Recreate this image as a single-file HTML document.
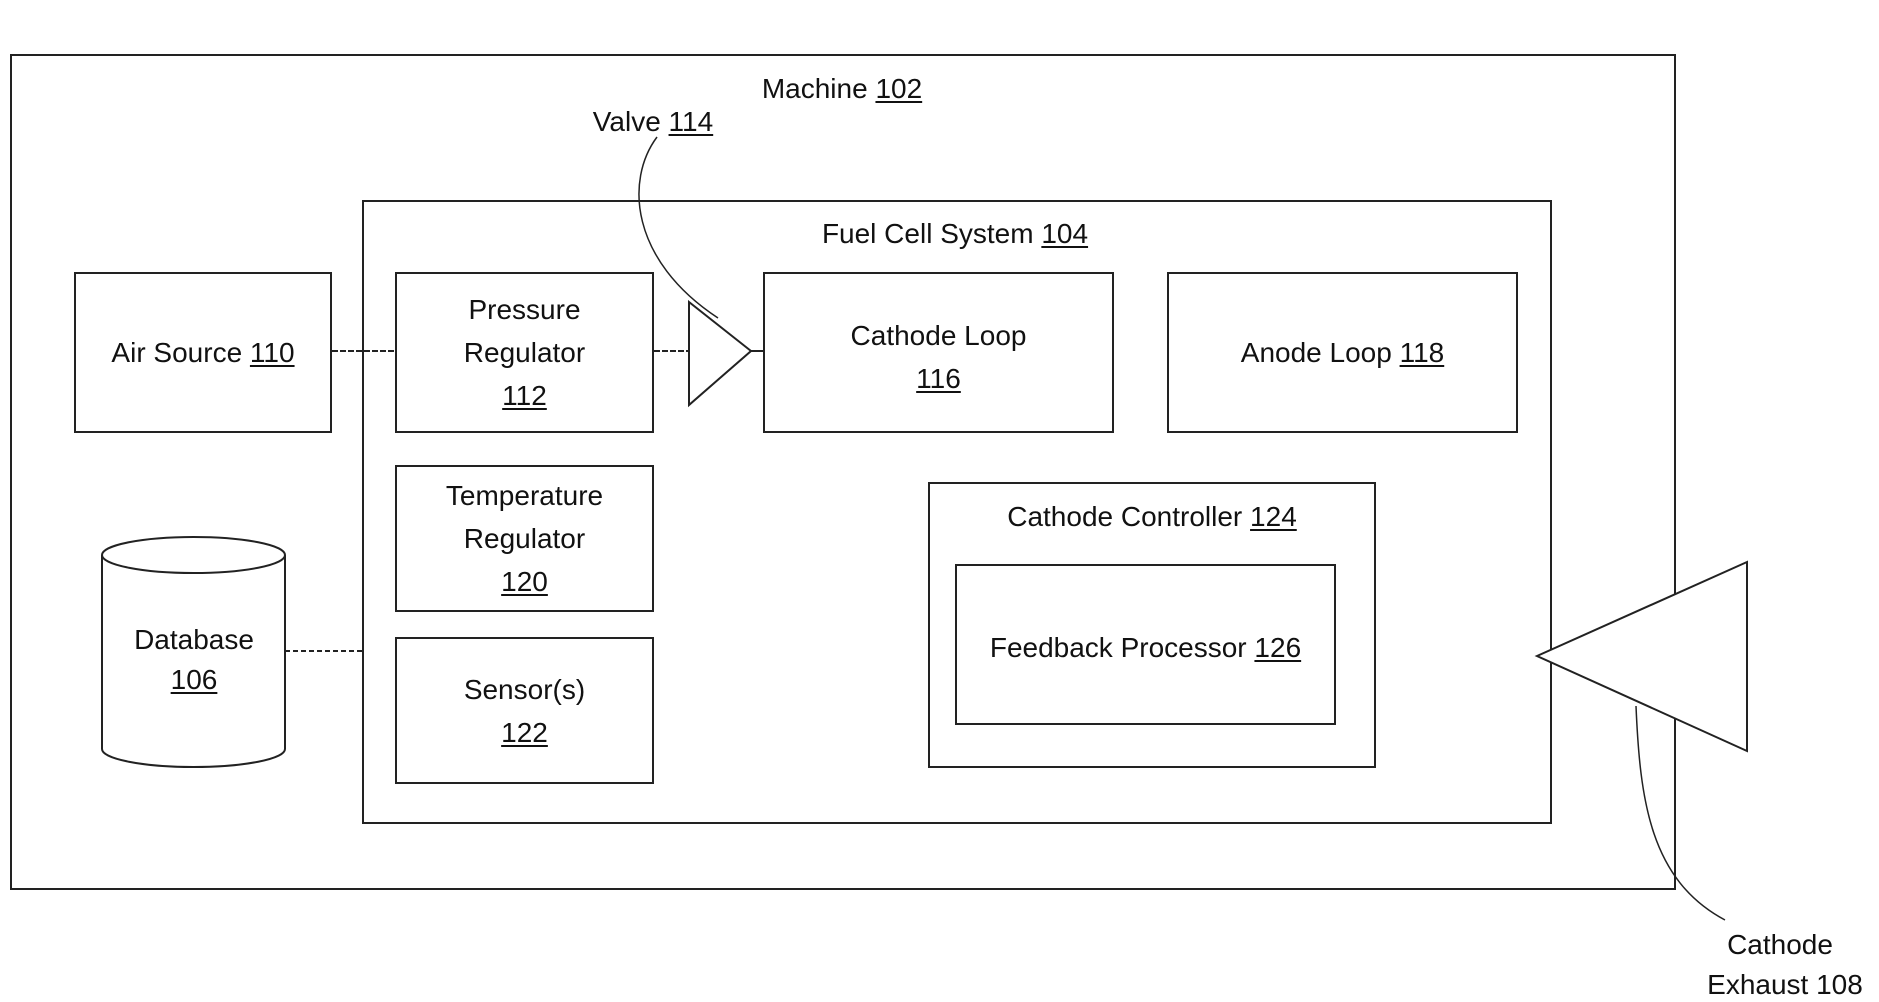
<!DOCTYPE html>
<html><head><style>
body{margin:0;background:#fff;width:1879px;height:996px;overflow:hidden;position:relative;font-family:"Liberation Sans",Arial,sans-serif;color:#111}
.b{position:absolute;border:2px solid #222;box-sizing:border-box}
.t{position:absolute;font-size:28px;text-align:center;line-height:34px;white-space:nowrap}
u{text-decoration-thickness:2px;text-underline-offset:3px}
.c{display:flex;align-items:center;justify-content:center;text-align:center;font-size:28px;line-height:43px}
.c>span{display:block}
</style></head><body>
<div class="b" style="left:10px;top:54px;width:1666px;height:836px"></div>
<div class="t" style="left:742px;top:72px;width:200px">Machine <u>102</u></div>
<div class="t" style="left:568px;top:105px;width:170px">Valve <u>114</u></div>
<div class="b" style="left:362px;top:200px;width:1190px;height:624px"></div>
<div class="t" style="left:790px;top:217px;width:330px">Fuel Cell System <u>104</u></div>
<div class="b c" style="left:74px;top:272px;width:258px;height:161px"><span>Air Source <u>110</u></span></div>
<div class="b c" style="left:395px;top:272px;width:259px;height:161px"><span>Pressure<br>Regulator<br><u>112</u></span></div>
<div class="b c" style="left:763px;top:272px;width:351px;height:161px;align-items:flex-start;padding-top:40px"><span>Cathode Loop<br><u>116</u></span></div>
<div class="b c" style="left:1167px;top:272px;width:351px;height:161px"><span>Anode Loop <u>118</u></span></div>
<div class="b c" style="left:395px;top:465px;width:259px;height:147px"><span>Temperature<br>Regulator<br><u>120</u></span></div>
<div class="b c" style="left:395px;top:637px;width:259px;height:147px"><span>Sensor(s)<br><u>122</u></span></div>
<div class="b" style="left:928px;top:482px;width:448px;height:286px"></div>
<div class="t" style="left:942px;top:500px;width:420px">Cathode Controller <u>124</u></div>
<div class="b c" style="left:955px;top:564px;width:381px;height:161px;align-items:flex-start;padding-top:60px"><span>Feedback Processor <u>126</u></span></div>
<div class="c" style="position:absolute;left:102px;top:560px;width:184px;height:200px;line-height:40px;z-index:2"><span>Database<br><u>106</u></span></div>
<svg width="1879" height="996" style="position:absolute;left:0;top:0" fill="none" stroke="#222" stroke-width="2">
<path d="M102 555 V749 A91.5 18 0 0 0 285 749 V555"/>
<ellipse cx="193.5" cy="555" rx="91.5" ry="18"/>
<line x1="332" y1="351" x2="395" y2="351" stroke-dasharray="6 2"/>
<line x1="654" y1="351" x2="689" y2="351" stroke-dasharray="6 2"/>
<line x1="751" y1="351" x2="763" y2="351"/>
<line x1="285" y1="651" x2="362" y2="651" stroke-dasharray="5 3"/>
<polygon points="689,302 751,351 689,405" fill="#fff"/>
<path d="M657 137 C625 180 630 260 718 318" stroke-width="1.5"/>
<polygon points="1537,656 1747,562 1747,751" fill="#fff"/>
<path d="M1636 706 C1640 800 1650 880 1725 920" stroke-width="1.5"/>
</svg>
<div class="t" style="left:1715px;top:928px;width:130px">Cathode</div>
<div class="t" style="left:1690px;top:968px;width:190px">Exhaust 108</div>
</body></html>
